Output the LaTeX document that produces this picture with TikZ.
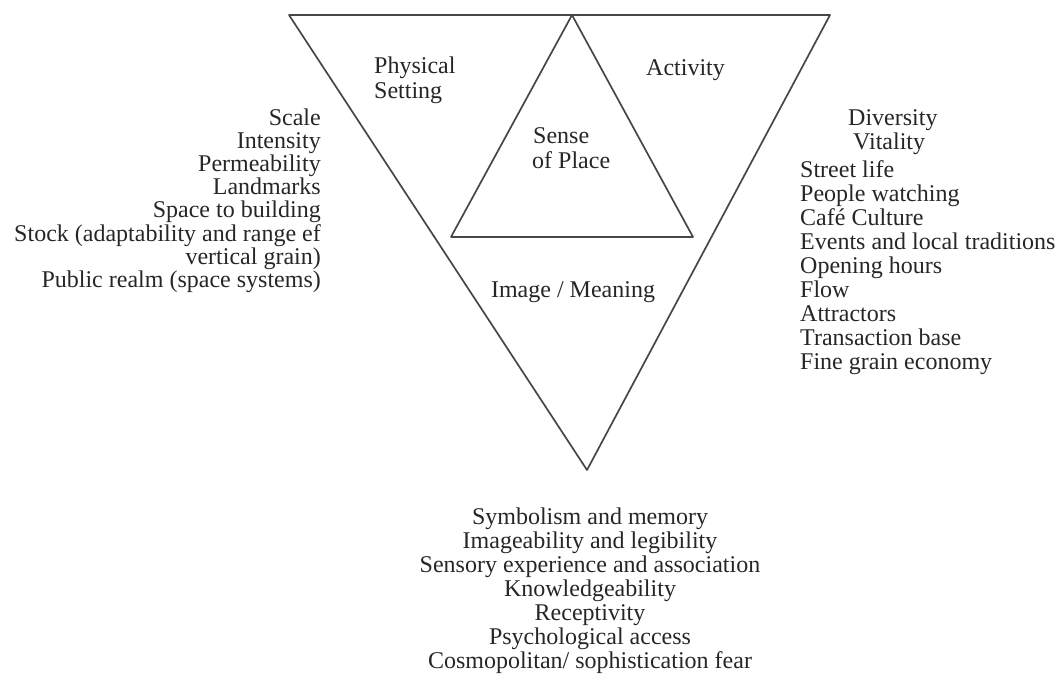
\documentclass[tikz,border=0pt]{standalone}
\usepackage{fontspec}
\setmainfont{Liberation Serif}
\begin{document}
\begin{tikzpicture}[x=1pt,y=-1pt,
  edge/.style={draw=black!72, line width=1.7pt, line join=round},
  lbl/.style={inner sep=0pt, font=\fontsize{24}{24}\selectfont, text=black!85}]
\useasboundingbox (0,0) rectangle (1062,688);
% outer inverted triangle
\coordinate (OA) at (289,15);
\coordinate (OB) at (830,15);
\coordinate (OC) at (587,470);
\draw[edge] (OA) -- (OB) -- (OC) -- cycle;
% inner triangle
\coordinate (IA) at (572,15);
\coordinate (IB) at (451,237);
\coordinate (IC) at (693,237);
\draw[edge] (IA) -- (IB) -- (IC) -- cycle;
% region labels
\node[lbl, anchor=base west] (phys1) at (374,73) {Physical};
\node[lbl, anchor=base west] (phys2) at (374,98) {Setting};
\node[lbl, anchor=base west] (act) at (646,75) {Activity};
\node[lbl, anchor=base west] (sense1) at (533,143) {Sense};
\node[lbl, anchor=base west] (sense2) at (532,168) {of Place};
\node[lbl, anchor=base] (img) at (573,297) {Image / Meaning};
% left list
\foreach \t [count=\i] in {Scale, Intensity, Permeability, Landmarks, Space to building, Stock (adaptability and range ef, vertical grain), Public realm (space systems)}
  \node[lbl, anchor=base east] (L\i) at (321,{125+23.2*(\i-1)}) {\t};
% right list
\node[lbl, anchor=base west] (R1) at (848,125) {Diversity};
\node[lbl, anchor=base west] (R2) at (853,149) {Vitality};
\foreach \t [count=\i] in {Street life, People watching, Café Culture, Events and local traditions, Opening hours, Flow, Attractors, Transaction base, Fine grain economy}
  \node[lbl, anchor=base west] (S\i) at (800,{177+24*(\i-1)}) {\t};
% bottom list
\foreach \t [count=\i] in {Symbolism and memory, Imageability and legibility, Sensory experience and association, Knowledgeability, Receptivity, Psychological access, Cosmopolitan/ sophistication fear}
  \node[lbl, anchor=base] (B\i) at (590,{524+24*(\i-1)}) {\t};
\end{tikzpicture}
\end{document}
